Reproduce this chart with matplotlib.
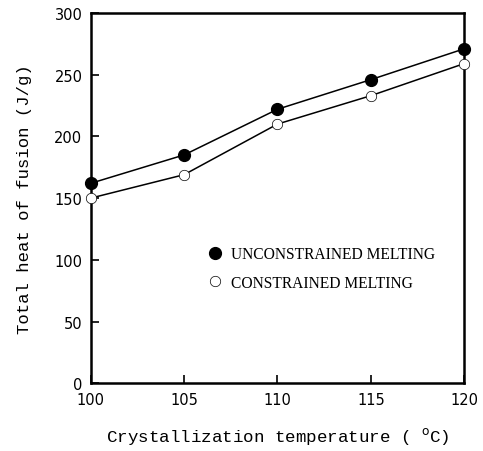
import matplotlib
matplotlib.use("Agg")
import matplotlib.pyplot as plt
from matplotlib.lines import Line2D

# Crystallization temperatures (deg C) and total heat of fusion (J/g)
temperature = [100, 105, 110, 115, 120]
unconstrained = [162, 185, 222, 246, 271]
constrained = [150, 169, 210, 233, 259]

x_ticks = [100, 105, 110, 115, 120]
y_ticks = [0, 50, 100, 150, 200, 250, 300]

fig = plt.figure(figsize=(4.83, 4.52), dpi=100)
ax = fig.add_axes([0.188, 0.150, 0.773, 0.819])

ax.plot(temperature, unconstrained, color="black", lw=1.1, marker="o",
        markersize=8.5, markerfacecolor="black", markeredgecolor="black",
        clip_on=False, zorder=3)
ax.plot(temperature, constrained, color="black", lw=1.1, marker="o",
        markersize=7.5, markerfacecolor="white", markeredgecolor="black",
        markeredgewidth=0.5, clip_on=False, zorder=3)

ax.set_xlim(100, 120)
ax.set_ylim(0, 300)
ax.set_xticks(x_ticks)
ax.set_yticks(y_ticks)
ax.tick_params(direction="in", length=6, width=1.2, labelsize=10.5,
               top=False, right=False, pad=6)
for lab in ax.get_xticklabels() + ax.get_yticklabels():
    lab.set_family("DejaVu Sans")
for s in ax.spines.values():
    s.set_linewidth(1.8)

ax.set_xlabel("Crystallization temperature ( $^{\\mathrm{o}}$C)",
              family="Liberation Mono", fontsize=12.6, labelpad=13)
ax.set_ylabel("Total heat of fusion (J/g)",
              family="Liberation Mono", fontsize=12.4, labelpad=16)

handles = [
    Line2D([], [], linestyle="none", marker="o", markersize=8.5,
           markerfacecolor="black", markeredgecolor="black"),
    Line2D([], [], linestyle="none", marker="o", markersize=7.5,
           markerfacecolor="white", markeredgecolor="black",
           markeredgewidth=0.5),
]
ax.legend(handles, ["UNCONSTRAINED MELTING", "CONSTRAINED MELTING"],
          loc="upper left", bbox_to_anchor=(0.275, 0.408), frameon=False,
          prop={"family": "Liberation Serif", "size": 11.2},
          handlelength=1.0, handletextpad=0.5, labelspacing=0.8)

fig.savefig("out.png", dpi=100)
